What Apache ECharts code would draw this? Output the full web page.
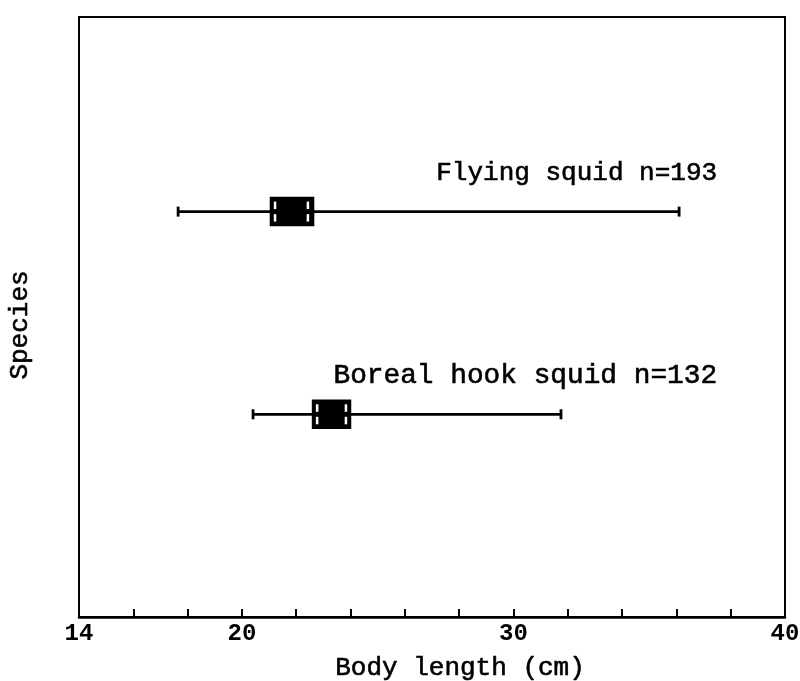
<!DOCTYPE html>
<html>
<head>
<meta charset="utf-8">
<script src="https://cdn.jsdelivr.net/npm/echarts@6/dist/echarts.min.js"></script>
<style>
html,body{margin:0;padding:0;background:#fff;}
#chart{width:800px;height:681px;}
</style>
</head>
<body>
<div id="chart"></div>
<script>
// Data
const categories = ['Flying squid', 'Boreal hook squid'];
const sampleSizes = [193, 132];
const yCategories = ['', 'Boreal hook squid', 'Flying squid'];
const whiskerMin = [17.65, 20.41];
const whiskerMax = [36.1, 31.75];
const boxLow = [21.07, 22.62];
const boxHigh = [22.62, 23.98];
const innerLow = [21.22, 22.77];
const innerHigh = [22.43, 23.83];
const xTickLabels = [14, 20, 30, 40];

const FONT = "'Liberation Mono', 'DejaVu Sans Mono', monospace";
const STYLE = { labelAnchorX: 37.5, labelFontSize: { 'Flying squid': 26, 'Boreal hook squid': 27.8 } };

const seriesData = categories.map((c, i) => [
  whiskerMin[i], whiskerMax[i], boxLow[i], boxHigh[i], innerLow[i], innerHigh[i],
  yCategories.indexOf(c)
]);

function renderItem(params, api) {
  const i = params.dataIndex;
  const cat = api.value(6);
  const px = v => api.coord([v, cat])[0];
  const y = api.coord([api.value(0), cat])[1];
  const lo = px(api.value(0)), hi = px(api.value(1));
  const q1 = px(api.value(2)), q3 = px(api.value(3));
  const c1 = px(api.value(4)), c2 = px(api.value(5));
  const blk = { stroke: '#000', lineWidth: 2.8 };
  const wht = { stroke: '#fff', lineWidth: 2.5 };
  const fs = STYLE.labelFontSize[categories[i]] || 26;
  return {
    type: 'group',
    children: [
      { type: 'line', shape: { x1: lo, y1: y, x2: hi, y2: y }, style: blk },
      { type: 'line', shape: { x1: lo, y1: y - 5, x2: lo, y2: y + 5 }, style: blk },
      { type: 'line', shape: { x1: hi, y1: y - 5, x2: hi, y2: y + 5 }, style: blk },
      { type: 'rect', shape: { x: q1, y: y - 13.5, width: q3 - q1, height: 27 },
        style: { fill: '#000', stroke: '#000', lineWidth: 2.5 } },
      { type: 'line', shape: { x1: c1, y1: y - 10, x2: c1, y2: y - 2.5 }, style: wht },
      { type: 'line', shape: { x1: c1, y1: y + 2.5, x2: c1, y2: y + 10 }, style: wht },
      { type: 'line', shape: { x1: c2, y1: y - 10, x2: c2, y2: y - 2.5 }, style: wht },
      { type: 'line', shape: { x1: c2, y1: y + 2.5, x2: c2, y2: y + 10 }, style: wht },
      { type: 'text', style: {
          text: categories[i] + ' n=' + sampleSizes[i],
          x: px(STYLE.labelAnchorX), y: y - 25,
          align: 'right', verticalAlign: 'bottom',
          font: fs + "px " + FONT, fill: '#000',
          stroke: '#000', lineWidth: 0.6
        } }
    ]
  };
}

const chart = echarts.init(document.getElementById('chart'));
chart.setOption({
  animation: false,
  backgroundColor: '#fff',
  grid: { left: 79, right: 15, top: 17, bottom: 64, show: true,
          borderColor: '#000', borderWidth: 2, containLabel: false,
          outerBoundsMode: 'none' },
  xAxis: {
    type: 'value', min: 14, max: 40, interval: 2,
    name: 'Body length (cm)', nameLocation: 'middle', nameGap: 38,
    nameTextStyle: { fontFamily: FONT, fontSize: 26, color: '#000', padding: [0, 0, 0, 56],
                     textBorderColor: '#000', textBorderWidth: 0.6 },
    axisLine: { show: true, lineStyle: { color: '#000', width: 2.5 } },
    axisTick: { show: true, inside: true, length: 8, lineStyle: { color: '#000', width: 2 } },
    axisLabel: {
      margin: 5, color: '#000', fontFamily: FONT, fontSize: 24, fontWeight: 'bold',
      showMinLabel: true, showMaxLabel: true,
      formatter: v => (xTickLabels.indexOf(v) >= 0 ? String(v) : '')
    },
    splitLine: { show: false }
  },
  yAxis: {
    type: 'value', min: 0, max: 2.96,
    name: 'Species', nameLocation: 'middle', nameGap: 46, nameRotate: 90,
    nameTextStyle: { fontFamily: FONT, fontSize: 26, color: '#000', padding: [0, 16, 0, 0],
                     textBorderColor: '#000', textBorderWidth: 0.6 },
    axisLine: { show: false }, axisTick: { show: false }, axisLabel: { show: false },
    splitLine: { show: false }
  },
  series: [{
    type: 'custom', renderItem: renderItem, data: seriesData, clip: false,
    encode: { x: [0, 1], y: 6 }
  }]
});
</script>
</body>
</html>
